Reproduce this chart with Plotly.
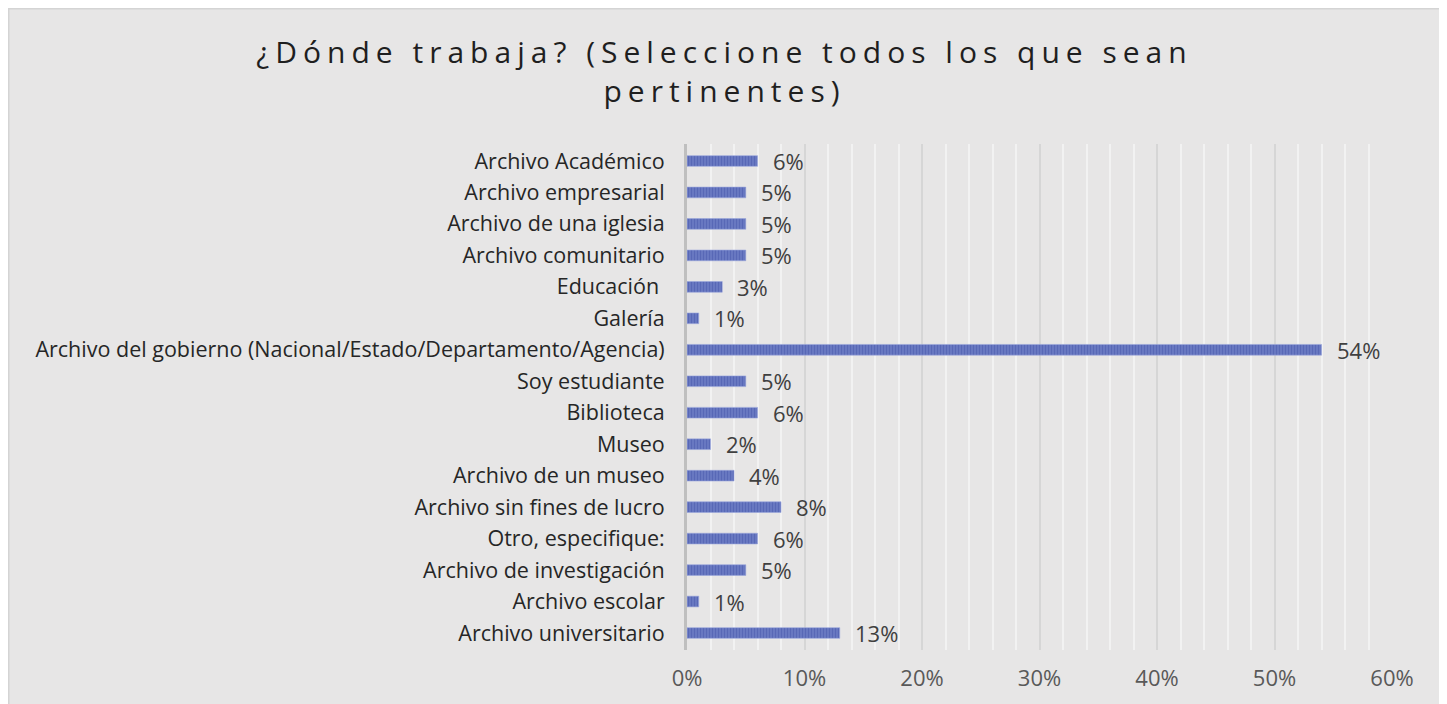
import plotly.graph_objects as go

categories = [
    "Archivo Académico",
    "Archivo empresarial",
    "Archivo de una iglesia",
    "Archivo comunitario",
    "Educación ",
    "Galería",
    "Archivo del gobierno (Nacional/Estado/Departamento/Agencia)",
    "Soy estudiante",
    "Biblioteca",
    "Museo",
    "Archivo de un museo",
    "Archivo sin fines de lucro",
    "Otro, especifique:",
    "Archivo de investigación",
    "Archivo escolar",
    "Archivo universitario",
]
values = [0.06, 0.05, 0.05, 0.05, 0.03, 0.01, 0.54, 0.05, 0.06, 0.02, 0.04, 0.08, 0.06, 0.05, 0.01, 0.13]
x_ticks = [0, 0.1, 0.2, 0.3, 0.4, 0.5, 0.6]
x_ticklabels = ["0%", "10%", "20%", "30%", "40%", "50%", "60%"]
title_lines = ["¿Dónde trabaja? (Seleccione todos los que sean", "pertinentes)"]

# page is drawn with an 8px body margin, so figure coords = page coords - 8
W, H = 1439, 696
ML, MR, MT, MB = 679, 55, 136, 54
PW, PH = W - ML - MR, H - MT - MB

def px_x(p):
    return (p - ML) / PW

def px_y(p):
    return (H - MB - p) / PH

FONT = "Open Sans"

fig = go.Figure()
fig.add_trace(go.Bar(
    x=values,
    y=categories,
    orientation="h",
    marker=dict(
        color="#6c7cc4",
        line=dict(width=0.6, color="#9aa6dc"),
        pattern=dict(shape="|", size=3, solidity=0.6, fgcolor="#3d4ea3", bgcolor="#7282c8"),
    ),
    hoverinfo="x+y",
))

for c, v in zip(categories, values):
    fig.add_annotation(
        x=v, y=c, xref="x", yref="y",
        text=f"{round(v * 100)}%",
        showarrow=False, xanchor="left", xshift=13,
        font=dict(family=FONT, size=22, color="#404040"),
    )

fig.add_shape(
    type="rect", xref="paper", yref="paper", layer="below",
    x0=px_x(0.75), x1=px_x(1433), y0=px_y(H + 10), y1=px_y(0.75),
    fillcolor="#e7e6e6", line=dict(color="#d4d4d4", width=1.5),
)

title_text = "<br>".join(title_lines)

fig.update_layout(
    width=W, height=H,
    margin=dict(l=ML, r=MR, t=MT, b=MB, autoexpand=False),
    paper_bgcolor="white",
    plot_bgcolor="rgba(0,0,0,0)",
    bargap=0.66,
    showlegend=False,
    title=dict(
        text=f'<span style="letter-spacing:6px">{title_text}</span>',
        x=716.5 / W, xref="container", xanchor="center",
        y=1 - 55 / H, yref="container", yanchor="top",
        font=dict(family=FONT, size=30, color="#1f1f1f"),
    ),
    xaxis=dict(
        range=[0, 0.6],
        tickvals=x_ticks,
        ticktext=x_ticklabels,
        showgrid=True, gridcolor="#d6d6d6", gridwidth=1.5,
        minor=dict(dtick=0.02, tick0=0, showgrid=True, gridcolor="#f2f2f2", gridwidth=1.5),
        zeroline=False,
        showline=False,
        ticks="",
        ticklabelstandoff=13,
        tickfont=dict(family=FONT, size=22, color="#595959"),
    ),
    yaxis=dict(
        autorange="reversed",
        showgrid=False,
        zeroline=False,
        showline=True, linecolor="#bfbfbf", linewidth=3,
        ticks="",
        ticklabelstandoff=15,
        tickfont=dict(family=FONT, size=21.5, color="#262626"),
    ),
)

fig.write_html("out.html")
